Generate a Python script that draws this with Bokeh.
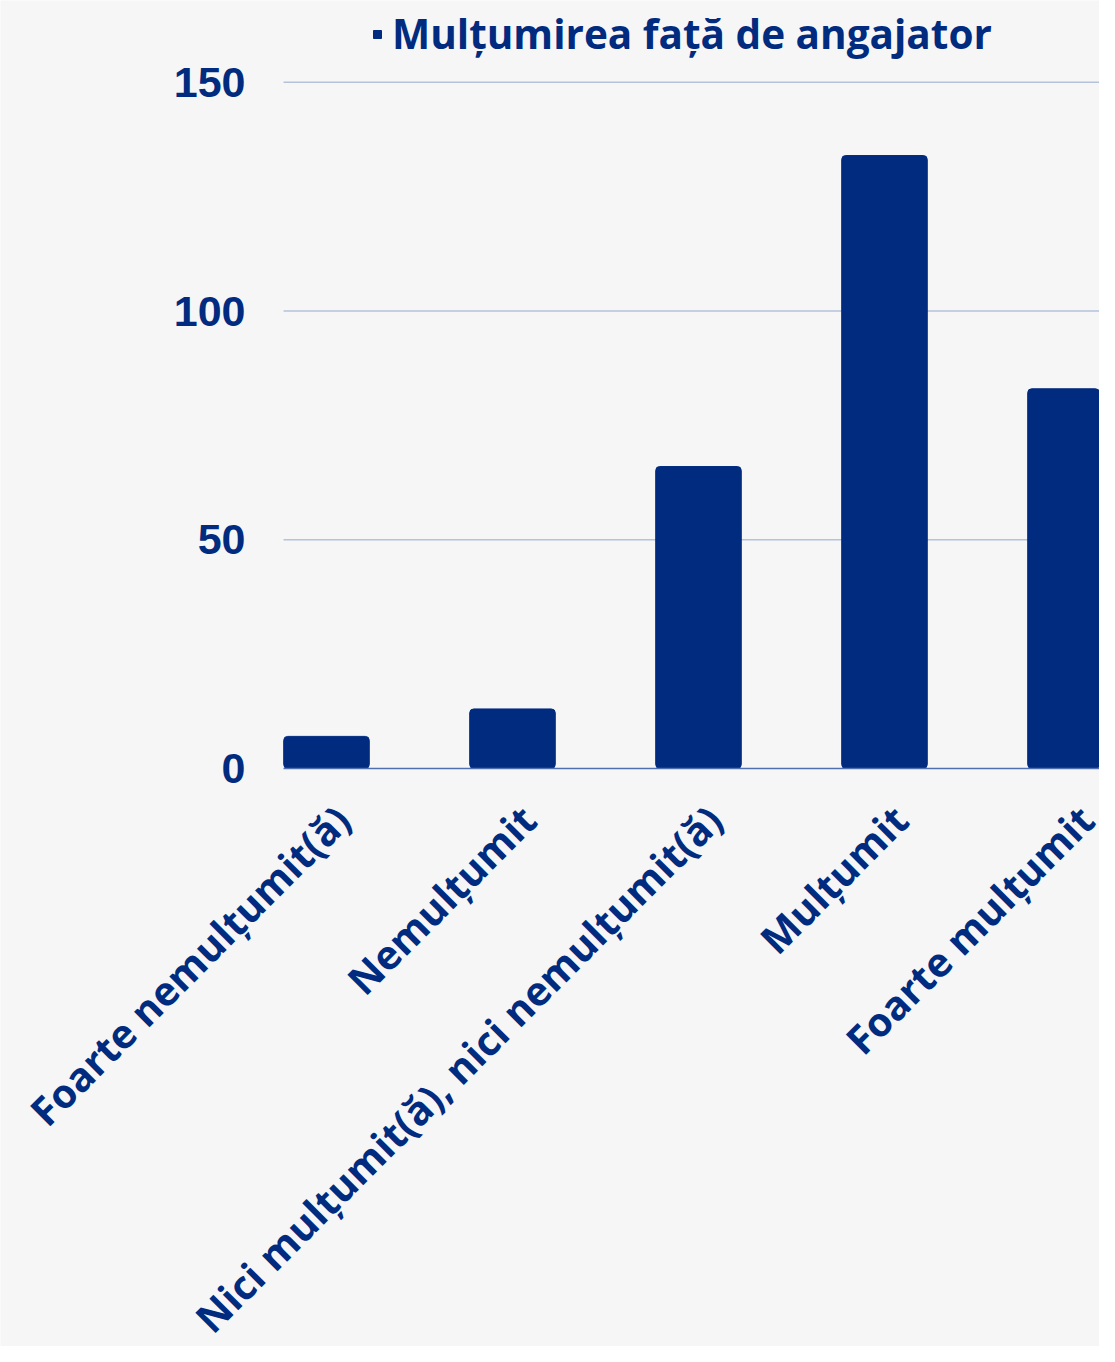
import math
from bokeh.plotting import figure
from bokeh.models import Range1d, Legend, LegendItem, ColumnDataSource, LabelSet
from bokeh.core.properties import value
from bokeh.embed import file_html
from bokeh.resources import INLINE

categories = ["Foarte nemulțumit(ă)", "Nemulțumit", "Nici mulțumit(ă), nici nemulțumit(ă)", "Mulțumit", "Foarte mulțumit"]
values = [7, 13, 66, 134, 83]
series_name = "Mulțumirea față de angajator"
y_ticks = [0, 50, 100, 150]

NAVY = "#002B7F"
BG = "#F6F6F7"

# plotting-area bounds (in data units) inside a frame that fills the whole figure
XL, XR = -0.231, 4.156

xs = list(range(len(categories)))
src = ColumnDataSource(dict(x=xs, top=values, cat=categories,
                            lx=[x + 0.085 for x in xs], ly=[0] * len(xs)))
grid_src = ColumnDataSource(dict(y=[t for t in y_ticks if t != 0]))
tick_src = ColumnDataSource(dict(y=y_ticks, x=[XL] * len(y_ticks), t=[str(t) for t in y_ticks]))

p = figure(width=1099, height=1346, output_backend="svg", toolbar_location=None,
           x_range=Range1d(-1.7527, XR), y_range=Range1d(-126.4, 167.9),
           min_border_left=0, min_border_right=0, min_border_top=0, min_border_bottom=0)
p.background_fill_color = BG
p.border_fill_color = BG
p.outline_line_color = None
p.xaxis.visible = False
p.yaxis.visible = False
p.grid.visible = False

# horizontal gridlines
p.segment(x0=XL, x1=XR, y0="y", y1="y", source=grid_src, line_color="#B4C2DC", line_width=1.5)

r = p.vbar(x="x", top="top", width=0.46, source=src, color=NAVY, border_radius=4)

# zero baseline
p.segment(x0=XL, x1=XR, y0=0, y1=0, line_color="#4F6FAF", line_width=1.5)

# y tick labels
p.add_layout(LabelSet(x="x", y="y", text="t", source=tick_src, x_offset=-38,
                      text_align="right", text_baseline="middle",
                      text_font=value("Liberation Sans"), text_font_style="bold",
                      text_font_size="43px", text_color=NAVY))

# category labels
p.add_layout(LabelSet(x="lx", y="ly", text="cat", source=src, angle=math.pi / 4,
                      y_offset=-44, text_align="right", text_baseline="middle",
                      text_font=value("Open Sans"), text_font_style="bold",
                      text_font_size="40px", text_color=NAVY))

legend = Legend(items=[LegendItem(label=series_name, renderers=[r])],
                location=(372, 1285), padding=0, margin=0, spacing=0,
                glyph_width=10, glyph_height=10, label_standoff=10,
                background_fill_alpha=0, border_line_color=None,
                label_text_font="Open Sans", label_text_font_style="bold",
                label_text_font_size="40.5px", label_text_color=NAVY)
p.add_layout(legend, "center")

open("out.html", "w").write(file_html(p, INLINE))
